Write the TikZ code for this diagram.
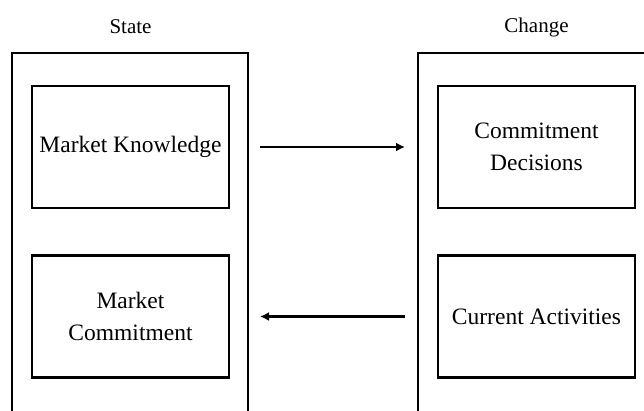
\documentclass[tikz,border=0pt]{standalone}
\usepackage{fontspec}
\setmainfont{Liberation Serif}
\usetikzlibrary{arrows.meta,calc}
\begin{document}
\begin{tikzpicture}[x=1pt,y=-1pt,
  outerbox/.style={draw,line width=2pt,minimum width=236pt,minimum height=380pt,inner sep=0pt},
  innerbox/.style={draw,line width=2.4pt,minimum width=197pt,minimum height=122pt,inner sep=0pt,align=center,font=\fontsize{23.5}{32}\selectfont},
  label/.style={font=\fontsize{21}{24}\selectfont},
  conn/.style={line width=2.2pt,-{Latex[length=9pt,width=9pt]}}]
\useasboundingbox (0,0) rectangle (644,410);
\begin{scope}
\clip (0,0) rectangle (644,410);
\node[outerbox] (lo) at (130,243) {};
\node[outerbox] (ro) at (536,243) {};
\end{scope}
\node[label] (st) at (130.5,27) {State};
\node[label] (ch) at (536.5,27) {Change};
\node[innerbox] (mk) at (130.5,147) {Market Knowledge};
\node[innerbox] (mc) at (130.5,316.5) {Market\\Commitment};
\node[innerbox] (cd) at (536.5,147) {Commitment\\Decisions};
\node[innerbox] (ca) at (536.5,316.5) {Current Activities};
\coordinate (a1) at ($(lo.east |- mk.center)+(11,0)$);
\coordinate (a2) at ($(ro.west |- cd.center)+(-12,0)$);
\coordinate (b1) at ($(ro.west |- ca.center)+(-12,0)$);
\coordinate (b2) at ($(lo.east |- mc.center)+(11,0)$);
\draw[conn] (a1) -- (a2);
\draw[conn] (b1) -- (b2);
\end{tikzpicture}
\end{document}
